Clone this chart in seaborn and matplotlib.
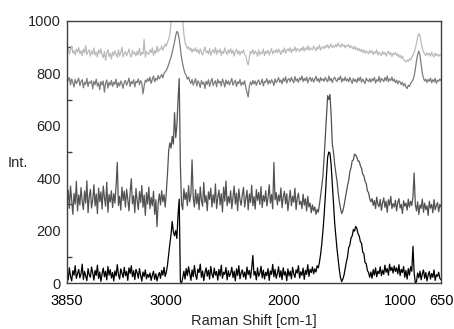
import numpy as np
import pandas as pd
import seaborn as sns
import matplotlib.pyplot as plt
from matplotlib.ticker import MultipleLocator

# Raman shift grid [cm-1], one row = 100 cm-1
shift = [3850, 3840, 3830, 3820, 3810, 3800, 3790, 3780, 3770, 3760,
         3750, 3740, 3730, 3720, 3710, 3700, 3690, 3680, 3670, 3660,
         3650, 3640, 3630, 3620, 3610, 3600, 3590, 3580, 3570, 3560,
         3550, 3540, 3530, 3520, 3510, 3500, 3490, 3480, 3470, 3460,
         3450, 3440, 3430, 3420, 3410, 3400, 3390, 3380, 3370, 3360,
         3350, 3340, 3330, 3320, 3310, 3300, 3290, 3280, 3270, 3260,
         3250, 3240, 3230, 3220, 3210, 3200, 3190, 3180, 3170, 3160,
         3150, 3140, 3130, 3120, 3110, 3100, 3090, 3080, 3070, 3060,
         3050, 3040, 3030, 3020, 3010, 3000, 2990, 2980, 2970, 2960,
         2950, 2940, 2930, 2920, 2910, 2900, 2890, 2880, 2870, 2860,
         2850, 2840, 2830, 2820, 2810, 2800, 2790, 2780, 2770, 2760,
         2750, 2740, 2730, 2720, 2710, 2700, 2690, 2680, 2670, 2660,
         2650, 2640, 2630, 2620, 2610, 2600, 2590, 2580, 2570, 2560,
         2550, 2540, 2530, 2520, 2510, 2500, 2490, 2480, 2470, 2460,
         2450, 2440, 2430, 2420, 2410, 2400, 2390, 2380, 2370, 2360,
         2350, 2340, 2330, 2320, 2310, 2300, 2290, 2280, 2270, 2260,
         2250, 2240, 2230, 2220, 2210, 2200, 2190, 2180, 2170, 2160,
         2150, 2140, 2130, 2120, 2110, 2100, 2090, 2080, 2070, 2060,
         2050, 2040, 2030, 2020, 2010, 2000, 1990, 1980, 1970, 1960,
         1950, 1940, 1930, 1920, 1910, 1900, 1890, 1880, 1870, 1860,
         1850, 1840, 1830, 1820, 1810, 1800, 1790, 1780, 1770, 1760,
         1750, 1740, 1730, 1720, 1710, 1700, 1690, 1680, 1670, 1660,
         1650, 1640, 1630, 1620, 1610, 1600, 1590, 1580, 1570, 1560,
         1550, 1540, 1530, 1520, 1510, 1500, 1490, 1480, 1470, 1460,
         1450, 1440, 1430, 1420, 1410, 1400, 1390, 1380, 1370, 1360,
         1350, 1340, 1330, 1320, 1310, 1300, 1290, 1280, 1270, 1260,
         1250, 1240, 1230, 1220, 1210, 1200, 1190, 1180, 1170, 1160,
         1150, 1140, 1130, 1120, 1110, 1100, 1090, 1080, 1070, 1060,
         1050, 1040, 1030, 1020, 1010, 1000, 990, 980, 970, 960,
         950, 940, 930, 920, 910, 900, 890, 880, 870, 860,
         850, 840, 830, 820, 810, 800, 790, 780, 770, 760,
         750, 740, 730, 720, 710, 700, 690, 680, 670, 660,
         650]

# top trace (light grey)
spec_a = [882, 896, 874, 890, 905, 878, 887, 870, 893, 881,
          899, 875, 886, 868, 892, 879, 906, 872, 884, 890,
          866, 885, 873, 897, 870, 881, 862, 889, 876, 894,
          871, 860, 884, 850, 879, 891, 864, 877, 855, 882,
          869, 886, 872, 861, 890, 866, 878, 900, 863, 876,
          884, 867, 879, 893, 870, 862, 888, 874, 881, 866,
          885, 871, 896, 868, 880, 874, 930, 862, 883, 877,
          872, 890, 880, 898, 868, 886, 877, 904, 881, 893,
          892, 905, 888, 900, 912, 904, 920, 930, 950, 990,
          1060, 1150, 1220, 1300, 1350, 1380, 1320, 1200, 1080, 1000,
          950, 918, 905, 895, 902, 888, 896, 880, 893, 885,
          898, 882, 890, 875, 893, 880, 870, 888, 901, 879,
          886, 874, 895, 868, 884, 891, 877, 899, 872, 888,
          880, 893, 869, 885, 876, 897, 882, 871, 890, 878,
          894, 876, 888, 866, 883, 892, 874, 887, 870, 884,
          878, 890, 872, 866, 845, 832, 860, 884, 876, 891,
          873, 886, 879, 865, 890, 871, 882, 876, 893, 868,
          884, 877, 889, 870, 882, 895, 874, 886, 880, 891,
          878, 893, 884, 872, 889, 881, 897, 876, 888, 894,
          885, 898, 879, 892, 887, 901, 883, 895, 890, 884,
          896, 888, 902, 885, 897, 891, 905, 887, 899, 893,
          890, 904, 895, 886, 900, 893, 908, 889, 898, 902,
          894, 906, 899, 910, 896, 903, 912, 898, 905, 900,
          911, 902, 916, 906, 900, 913, 904, 909, 898, 907,
          903, 910, 897, 905, 899, 893, 904, 890, 898, 887,
          895, 884, 892, 880, 889, 877, 886, 881, 874, 888,
          879, 886, 872, 883, 877, 890, 870, 881, 875, 868,
          884, 874, 880, 866, 878, 885, 871, 879, 864, 877,
          872, 880, 868, 875, 862, 870, 858, 866, 852, 848,
          843, 851, 846, 856, 850, 862, 870, 880, 895, 915,
          938, 952, 945, 920, 895, 882, 874, 868, 879, 871,
          876, 866, 881, 870, 862, 877, 868, 874, 865, 872,
          870]

# second trace (mid grey)
spec_b = [790, 772, 784, 756, 779, 765, 748, 777, 761, 770,
          782, 753, 769, 776, 745, 766, 758, 781, 750, 768,
          763, 772, 741, 770, 757, 778, 752, 764, 738, 769,
          756, 771, 728, 762, 775, 744, 766, 755, 773, 750,
          767, 758, 778, 746, 765, 752, 771, 760, 743, 768,
          773, 755, 766, 782, 750, 769, 761, 776, 748, 770,
          765, 779, 757, 772, 764, 722, 751, 774, 767, 780,
          770, 786, 762, 777, 790, 768, 781, 774, 792, 779,
          787, 796, 783, 800, 806, 812, 822, 835, 848, 862,
          880, 900, 920, 945, 960, 955, 930, 895, 860, 835,
          815, 800, 792, 778, 786, 770, 762, 777, 755, 768,
          780, 752, 771, 764, 746, 773, 759, 767, 742, 770,
          758, 776, 750, 768, 781, 754, 765, 772, 749, 777,
          763, 770, 752, 779, 766, 748, 775, 760, 771, 756,
          769, 781, 755, 766, 774, 750, 768, 761, 777, 754,
          766, 758, 772, 745, 728, 710, 750, 767, 756, 773,
          760, 771, 754, 769, 775, 757, 764, 778, 752, 770,
          766, 780, 759, 773, 762, 776, 768, 754, 779, 765,
          772, 784, 766, 775, 760, 781, 770, 787, 763, 776,
          780, 768, 785, 773, 764, 788, 771, 779, 766, 783,
          775, 790, 769, 781, 772, 786, 764, 778, 785, 770,
          782, 767, 777, 789, 771, 780, 766, 784, 773, 779,
          770, 785, 775, 768, 790, 772, 781, 765, 779, 786,
          774, 769, 783, 776, 790, 767, 780, 772, 786, 771,
          779, 768, 784, 773, 762, 781, 770, 777, 765, 783,
          772, 786, 766, 778, 770, 761, 782, 774, 768, 780,
          767, 779, 772, 785, 763, 776, 770, 788, 766, 781,
          775, 769, 784, 772, 790, 768, 779, 773, 786, 770,
          778, 765, 774, 760, 771, 768, 757, 766, 752, 761,
          748, 742, 755, 750, 762, 768, 775, 790, 815, 848,
          872, 885, 870, 835, 800, 782, 771, 778, 765, 777,
          770, 782, 764, 776, 768, 781, 762, 774, 770, 779,
          772]

# third trace (dark grey)
spec_c = [300, 355, 285, 370, 318, 262, 342, 301, 388, 275,
          336, 298, 364, 312, 280, 351, 305, 390, 268, 329,
          357, 286, 318, 375, 294, 340, 265, 362, 310, 348,
          282, 370, 326, 293, 385, 270, 338, 309, 352, 288,
          341, 305, 372, 460, 296, 331, 278, 366, 315, 350,
          290, 358, 320, 275, 344, 398, 302, 333, 268, 361,
          314, 280, 349, 307, 372, 289, 336, 258, 345, 301,
          366, 284, 327, 295, 350, 262, 318, 215, 306, 340,
          298, 352, 310, 337, 290, 348, 420, 505, 535, 515,
          560, 530, 650, 555, 600, 700, 780, 450, 300, 280,
          360, 318, 345, 295, 372, 310, 338, 470, 325, 290,
          356, 302, 341, 280, 367, 315, 293, 384, 308, 333,
          276, 348, 319, 362, 290, 337, 305, 378, 284, 327,
          355, 298, 341, 271, 366, 312, 389, 295, 330, 305,
          352, 284, 327, 370, 301, 343, 276, 359, 318, 296,
          338, 365, 290, 321, 354, 279, 340, 307, 373, 295,
          330, 282, 357, 315, 346, 300, 368, 288, 334, 311,
          352, 294, 326, 375, 305, 338, 283, 460, 317, 345,
          298, 336, 312, 363, 287, 329, 350, 302, 341, 276,
          318, 354, 295, 331, 308, 362, 280, 325, 343, 300,
          312, 284, 339, 297, 322, 275, 331, 290, 305, 268,
          298, 276, 290, 262, 281, 270, 300, 335, 370, 410,
          480, 560, 640, 715, 700, 720, 640, 530, 500, 455,
          420, 390, 345, 310, 285, 265, 275, 295, 320, 345,
          372, 392, 425, 440, 466, 470, 492, 488, 480, 465,
          465, 448, 438, 415, 410, 388, 380, 352, 345, 322,
          310, 322, 296, 315, 284, 328, 300, 291, 319, 277,
          306, 325, 289, 312, 270, 318, 297, 331, 284, 303,
          290, 316, 275, 308, 322, 286, 300, 265, 314, 293,
          305, 278, 320, 290, 312, 296, 330, 420, 300, 275,
          310, 262, 298, 285, 320, 270, 305, 280, 295, 258,
          312, 286, 300, 268, 318, 279, 296, 307, 272, 300,
          290]

# bottom trace (black)
spec_d = [40, 12, 58, 25, 8, 47, 30, 66, 18, 36,
          52, 20, 35, 72, 14, 44, 26, 9, 55, 31,
          22, 61, 38, 11, 48, 29, 68, 17, 42, 6,
          35, 57, 24, 45, 12, 63, 30, 51, 19, 40,
          8, 46, 27, 70, 33, 15, 54, 38, 21, 60,
          28, 44, 10, 58, 36, 66, 24, 47, 13, 52,
          39, 18, 55, 29, 7, 42, 25, 50, 16, 33,
          22, 38, 10, 30, 45, 14, 35, 8, 28, 40,
          18, 48, 30, 60, 25, 42, 70, 110, 150, 185,
          235, 195, 180, 200, 170, 260, 320, 5, 0, 20,
          45, 15, 55, 28, 62, 35, 10, 50, 24, 67,
          31, 14, 53, 40, 72, 22, 46, 9, 38, 58,
          26, 49, 15, 63, 34, 20, 57, 30, 44, 11,
          52, 27, 68, 18, 41, 33, 59, 12, 47, 25,
          37, 60, 21, 45, 8, 54, 29, 66, 16, 39,
          50, 23, 42, 14, 61, 32, 48, 19, 56, 105,
          30, 44, 12, 58, 26, 37, 64, 20, 49, 15,
          41, 28, 55, 10, 46, 33, 71, 24, 52, 18,
          36, 62, 22, 47, 13, 58, 30, 43, 9, 54,
          27, 45, 16, 60, 35, 21, 50, 38, 66, 19,
          43, 29, 57, 14, 48, 33, 70, 25, 52, 40,
          61, 35, 54, 42, 66, 58, 80, 110, 150, 200,
          260, 330, 410, 480, 500, 495, 450, 380, 305, 230,
          180, 130, 90, 50, 20, 5, 15, 30, 55, 80,
          100, 135, 145, 172, 180, 204, 198, 216, 208, 188,
          180, 158, 152, 118, 112, 78, 74, 48, 40, 22,
          42, 18, 51, 30, 58, 24, 45, 36, 62, 28,
          49, 33, 68, 41, 55, 30, 72, 47, 60, 38,
          65, 44, 58, 35, 70, 28, 52, 40, 63, 22,
          48, 15, 55, 30, 62, 45, 140, 40, 0, 5,
          38, 20, 45, 12, 35, 50, 18, 40, 8, 30,
          44, 15, 36, 22, 50, 10, 32, 25, 41, 18,
          12]

names = ["a", "b", "c", "d"]
colors = ["#bababa", "#7c7c7c", "#525252", "#000000"]

df = pd.concat([pd.DataFrame({"shift": shift, "intensity": v, "spectrum": n})
                for n, v in zip(names, [spec_a, spec_b, spec_c, spec_d])])

sns.set_style("white")
plt.rcParams['font.family'] = ['Liberation Sans', 'DejaVu Sans']

fig = plt.figure(figsize=(4.54, 3.29), dpi=100)
ax = fig.add_axes([0.1476, 0.1398, 0.8238, 0.7964])

sns.lineplot(data=df, x="shift", y="intensity", hue="spectrum", hue_order=names,
             palette=colors, estimator=None, sort=False, linewidth=0.9,
             legend=False, ax=ax)

ax.set_xlim(3850, 650)
ax.set_ylim(0, 1000)
ax.set_xticks([3850, 3000, 2000, 1000, 650])
ax.set_xticklabels(["3850", "3000", "2000", "1000", "650"])
ax.set_yticks([0, 200, 400, 600, 800, 1000])
ax.yaxis.set_minor_locator(MultipleLocator(100))

ax.tick_params(axis="x", length=0, pad=8, labelsize=10.5, colors="black")
ax.tick_params(axis="y", which="major", direction="inout", length=6.5, width=1,
               pad=1, labelsize=10.5, color="#404040")
ax.tick_params(axis="y", which="minor", direction="in", left=True, length=3.5,
               width=1, color="#404040")

for s in ax.spines.values():
    s.set_visible(True)
    s.set_color("#404040")
    s.set_linewidth(1)

ax.set_xlabel("Raman Shift [cm-1]", fontsize=10.5, va="top")
ax.xaxis.set_label_coords(0.5, -0.12)
ax.set_ylabel("Int.", rotation=0, ha="left", va="center", fontsize=10.5)
ax.yaxis.set_label_coords(-0.16, 0.458)

fig.savefig("out.png", dpi=100)
